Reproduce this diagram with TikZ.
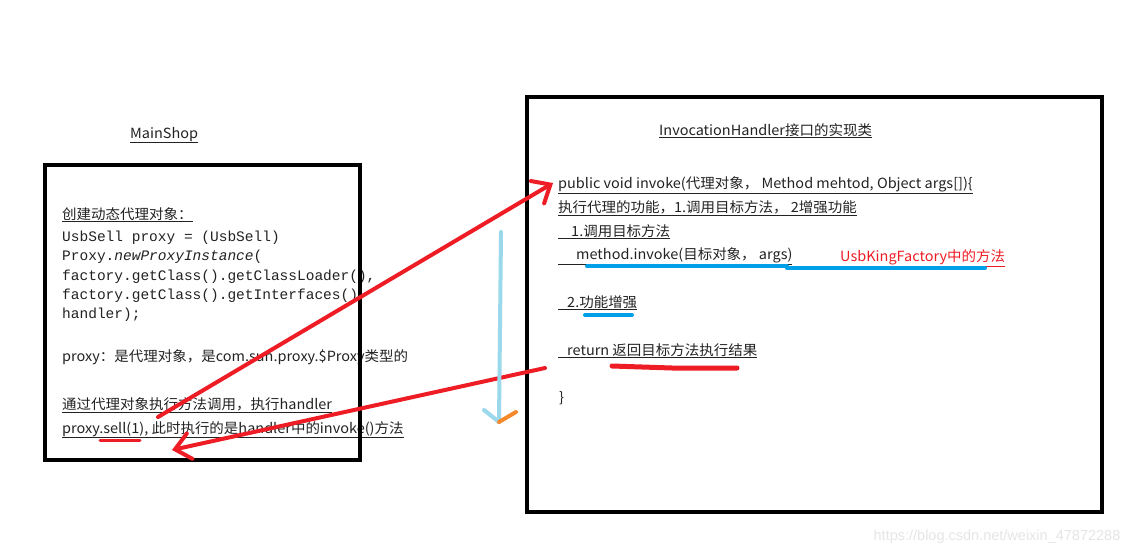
\documentclass[tikz,border=0pt]{standalone}
\usepackage{fontspec}
\setmainfont{Noto Sans CJK SC}[FakeStretch=1.035]
\setmonofont{Liberation Mono}
\newfontfamily\wmfont{Liberation Sans}
\usetikzlibrary{arrows.meta}
\definecolor{penred}{HTML}{EE1C24}
\definecolor{penblue}{HTML}{00A0E9}
\definecolor{paleblue}{HTML}{9AD8EC}
\definecolor{penorange}{HTML}{F58A2C}
\definecolor{inkgray}{HTML}{222222}
\tikzset{
	txt/.style={anchor=base west, inner sep=0pt, text=inkgray, font=\fontsize{14}{16}\selectfont},
	code/.style={txt, font=\fontsize{14.5}{16}\ttfamily},
	frame/.style={line width=4pt, black},
	redpen/.style={penred, line width=4pt, line cap=round},
	bluepen/.style={penblue, line width=4pt, line cap=round},
	barb/.style={-{Straight Barb[length=15pt,width=26pt,line cap=round]}}
}

\begin{document}
\begin{tikzpicture}[x=1pt,y=-1pt]
	\useasboundingbox (0,0) rectangle (1142,554);
	% MainShop side
	\node[txt] (mainshop) at (130,138) {\underline{MainShop}};
	\node[txt] (create) at (62,219) {\underline{创建动态代理对象：}};
	\node[code] (line1) at (62,241) {UsbSell proxy = (UsbSell)};
	\node[code] (line2) at (62,260) {Proxy.\textit{newProxyInstance}(};
	\node[code] (line3) at (62,280) {factory.getClass().getClassLoader(),};
	\node[code] (line4) at (62,299) {factory.getClass().getInterfaces(),};
	\node[code] (line5) at (62,318) {handler);};
	\node[txt] (proxytype) at (62,361) {proxy：是代理对象，是com.sun.proxy.\$Proxy类型的};
	\node[txt] (callvia) at (62,409) {\underline{通过代理对象执行方法调用，执行handler}};
	\node[txt] (sell) at (62,433) {\underline{proxy.sell(1), 此时执行的是handler中的invoke()方法}};
	\draw[frame] (45,165) rectangle (360,460);
	% handler side
	\node[txt] (handler) at (659,135) {\underline{InvocationHandler接口的实现类}};
	\node[txt] (invoke) at (558,188) {\underline{public void invoke(代理对象， Method mehtod, Object args[])\{}};
	\node[txt] (duty) at (558,212) {\underline{执行代理的功能，1.调用目标方法， 2增强功能}};
	\node[txt] (step1) at (558,236) {\underline{\hspace*{13pt}1.调用目标方法}};
	\node[txt] (target) at (558,259) {\underline{\hspace*{18pt}method.invoke(目标对象， args)}};
	\node[txt, text=penred] (factory) at (840,261) {\underline{UsbKingFactory中的方法}};
	\node[txt] (step2) at (558,307) {\underline{\hspace*{9pt}2.功能增强}};
	\node[txt] (result) at (558,355) {\underline{\hspace*{9pt}return 返回目标方法执行结果}};
	\node[txt] (close) at (559,402) {\}};
	\draw[frame] (527,97) rectangle (1102,512);
	% marks
	\draw[bluepen] (587,266) -- (787,266);
	\draw[bluepen] (787,268) -- (985,268);
	\draw[bluepen] (585,315) -- (632,315);
	\draw[redpen, line width=3pt] (100,440) -- (140,440);
	\draw[redpen, line width=5pt] (612,366) -- (672,368) -- (737,368);
	% arrows
	\coordinate (callstart) at (158,417);
	\coordinate (calltip) at (553,183);
	\coordinate (backstart) at (545,368);
	\coordinate (backtip) at (172,450);
	\draw[redpen, barb] (callstart) -- (calltip);
	\draw[redpen, barb] (backstart) -- (backtip);
	\coordinate (flowtop) at (501,232);
	\coordinate (flowtip) at (499,422);
	\draw[paleblue, line width=4pt, line cap=round] (flowtop) -- (flowtip);
	\draw[paleblue, line width=4pt, line cap=round] (484,410) -- (flowtip);
	\draw[penorange, line width=4pt, line cap=round] (flowtip) -- (516,412);
	% watermark
	\node[inner sep=0pt, text=black!10, font=\wmfont\fontsize{14.5}{16}\selectfont] (mark) at (997,537) {https://blog.csdn.net/weixin\_47872288};
\end{tikzpicture}
\end{document}
